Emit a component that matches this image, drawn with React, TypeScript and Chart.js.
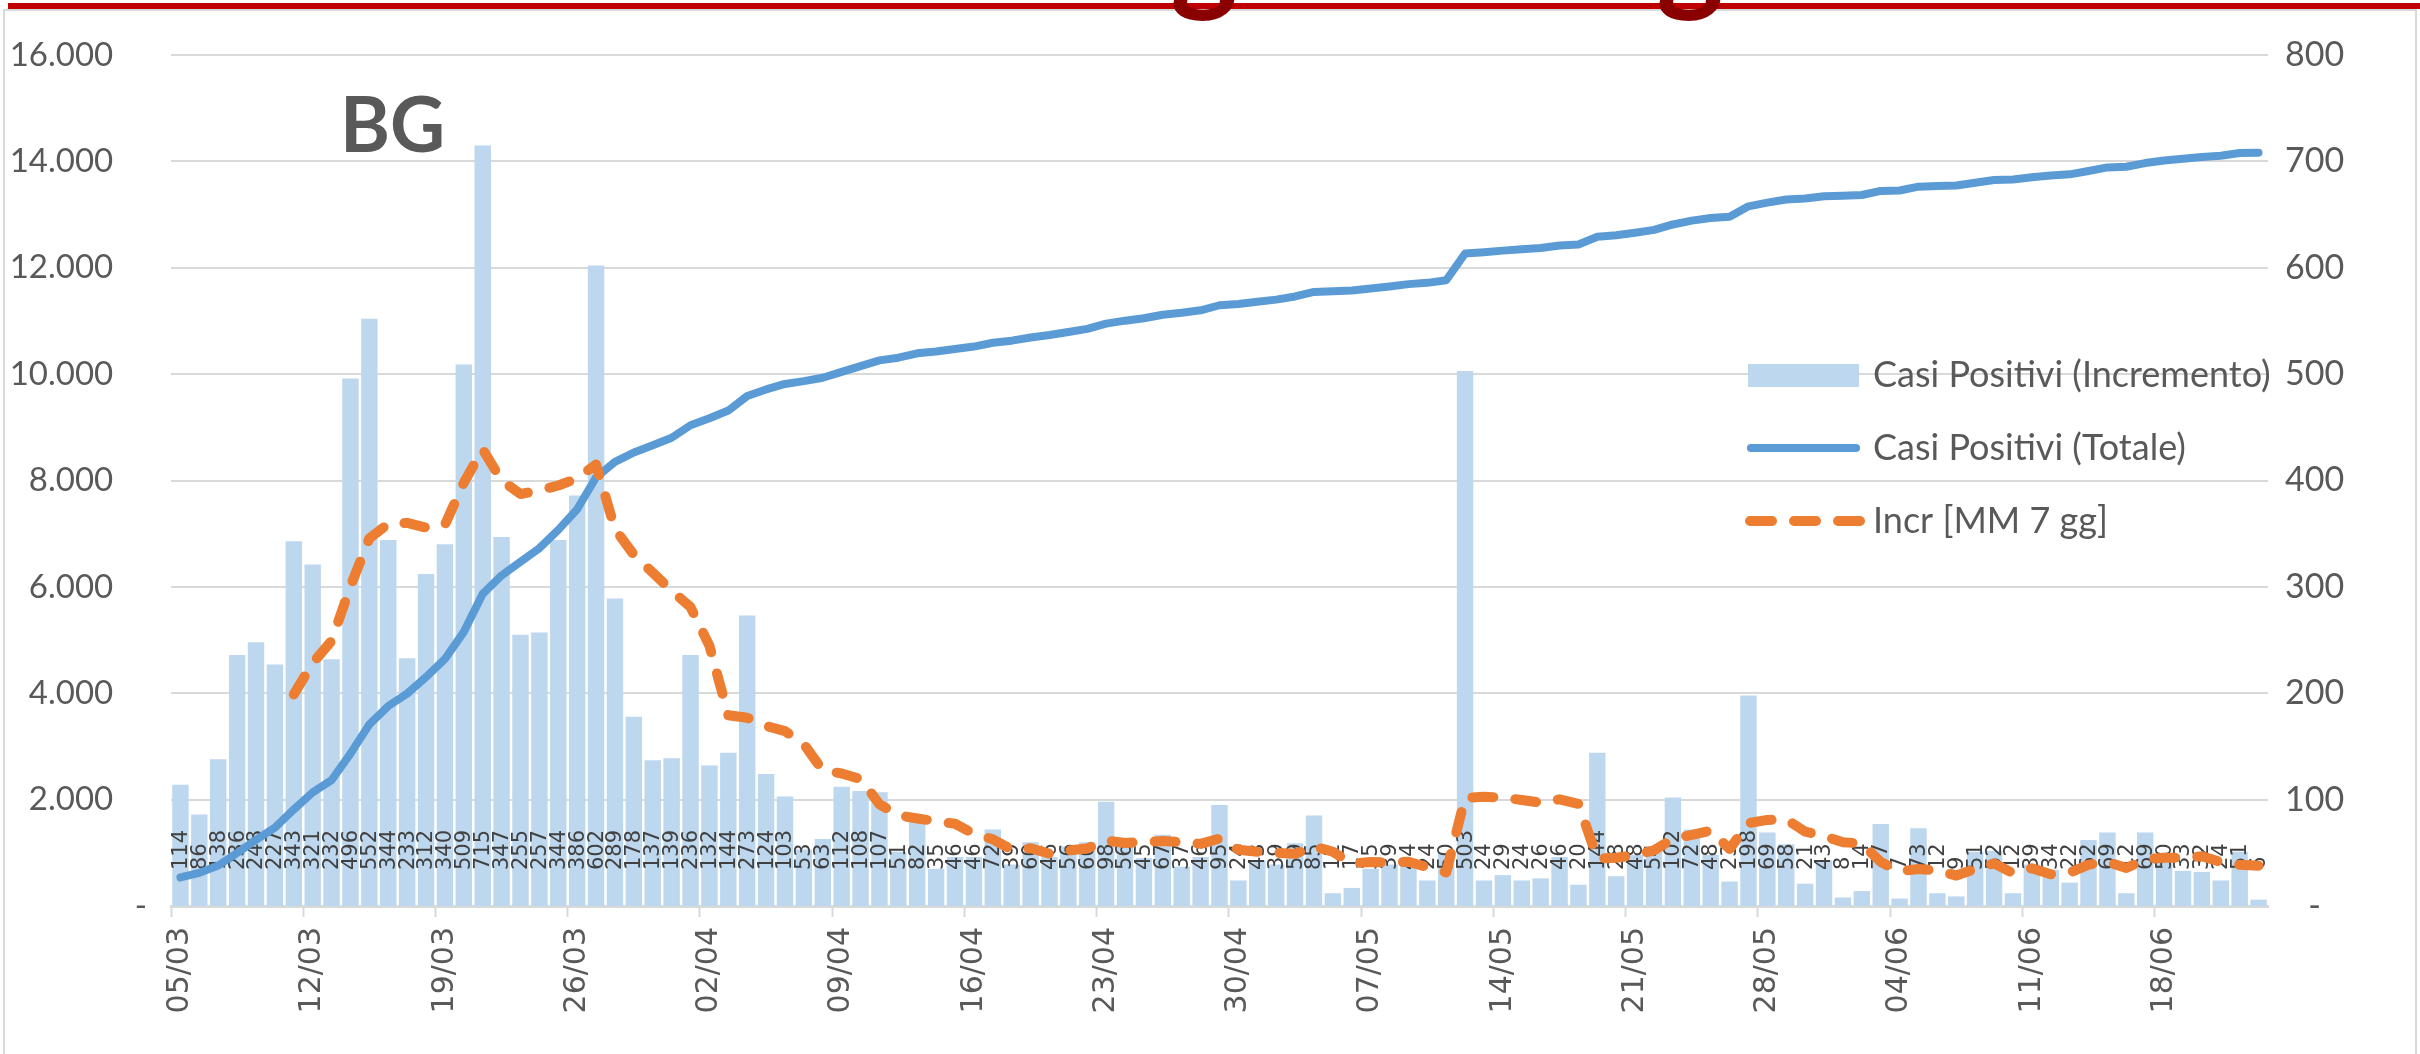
import React, { useEffect, useRef } from 'react';
import { Chart, registerables } from 'chart.js';

Chart.register(...registerables);

// ---------------- DATA ----------------
const categories = [
  '05/03','06/03','07/03','08/03','09/03','10/03','11/03','12/03','13/03','14/03',
  '15/03','16/03','17/03','18/03','19/03','20/03','21/03','22/03','23/03','24/03',
  '25/03','26/03','27/03','28/03','29/03','30/03','31/03','01/04','02/04','03/04',
  '04/04','05/04','06/04','07/04','08/04','09/04','10/04','11/04','12/04','13/04',
  '14/04','15/04','16/04','17/04','18/04','19/04','20/04','21/04','22/04','23/04',
  '24/04','25/04','26/04','27/04','28/04','29/04','30/04','01/05','02/05','03/05',
  '04/05','05/05','06/05','07/05','08/05','09/05','10/05','11/05','12/05','13/05',
  '14/05','15/05','16/05','17/05','18/05','19/05','20/05','21/05','22/05','23/05',
  '24/05','25/05','26/05','27/05','28/05','29/05','30/05','31/05','01/06','02/06',
  '03/06','04/06','05/06','06/06','07/06','08/06','09/06','10/06','11/06','12/06',
  '13/06','14/06','15/06','16/06','17/06','18/06','19/06','20/06','21/06','22/06',
  '23/06',
];

const incrementi = [
  114, 86, 138, 236, 248, 227, 343, 321, 232, 496,
  552, 344, 233, 312, 340, 509, 715, 347, 255, 257,
  344, 386, 602, 289, 178, 137, 139, 236, 132, 144,
  273, 124, 103, 53, 63, 112, 108, 107, 51, 82,
  35, 46, 46, 72, 39, 60, 46, 56, 60, 98,
  56, 45, 67, 37, 46, 95, 24, 43, 39, 59,
  85, 12, 17, 35, 39, 44, 24, 50, 503, 24,
  29, 24, 26, 46, 20, 144, 28, 48, 54, 102,
  72, 48, 23, 198, 69, 58, 21, 43, 8, 14,
  77, 7, 73, 12, 9, 51, 52, 12, 39, 34,
  22, 62, 69, 12, 69, 50, 33, 32, 24, 51,
  6,
];

const totale = [
  537, 623, 761, 997, 1245, 1472, 1815, 2136, 2368, 2864,
  3416, 3760, 3993, 4305, 4645, 5154, 5869, 6216, 6471, 6728,
  7072, 7458, 8060, 8349, 8527, 8664, 8803, 9039, 9171, 9315,
  9588, 9712, 9815, 9868, 9931, 10043, 10151, 10258, 10309, 10391,
  10426, 10472, 10518, 10590, 10629, 10689, 10735, 10791, 10851, 10949,
  11005, 11050, 11117, 11154, 11200, 11295, 11319, 11362, 11401, 11460,
  11545, 11557, 11574, 11609, 11648, 11692, 11716, 11766, 12269, 12293,
  12322, 12346, 12372, 12418, 12438, 12582, 12610, 12658, 12712, 12814,
  12886, 12934, 12957, 13155, 13224, 13282, 13303, 13346, 13354, 13368,
  13445, 13452, 13525, 13537, 13546, 13597, 13649, 13661, 13700, 13734,
  13756, 13818, 13887, 13899, 13968, 14018, 14051, 14083, 14107, 14158,
  14164,
];

const media7 = [
  null, null, null, null, null, null, 198.9, 228.4, 249.3, 300.4,
  345.6, 359.3, 360.1, 355.7, 358.4, 398.0, 429.3, 400.0, 387.3, 390.7,
  395.3, 401.9, 415.1, 354.3, 330.1, 313.3, 296.4, 281.0, 244.7, 179.3,
  177.0, 169.3, 164.4, 152.1, 127.4, 124.6, 119.4, 95.7, 85.3, 82.3,
  79.7, 77.3, 67.9, 62.7, 53.0, 54.3, 49.1, 52.1, 54.1, 61.6,
  59.3, 60.1, 61.1, 59.9, 58.4, 63.4, 52.9, 51.0, 50.1, 49.0,
  55.9, 51.0, 39.9, 41.4, 40.9, 41.6, 36.6, 31.6, 101.7, 102.7,
  101.9, 99.7, 97.1, 100.3, 96.0, 44.7, 45.3, 48.0, 52.3, 63.1,
  66.9, 70.9, 53.6, 77.9, 80.9, 81.4, 69.9, 65.7, 60.0, 58.7,
  41.4, 32.6, 34.7, 33.4, 28.6, 34.7, 40.1, 30.9, 35.4, 29.9,
  31.3, 38.9, 41.4, 35.7, 43.9, 45.4, 45.3, 46.7, 41.3, 38.7,
  37.9,
];

const seriesLabels = ['Casi Positivi (Incremento)', 'Casi Positivi (Totale)', 'Incr [MM 7 gg]'];
const leftTickLabels = ['-', '2.000', '4.000', '6.000', '8.000', '10.000', '12.000', '14.000', '16.000'];
const rightTickLabels = ['-', '100', '200', '300', '400', '500', '600', '700', '800'];
const chartTag = 'BG';
// cut-off title glyphs visible at the very top of the picture
const titleFragments = ['g', 'g'];

// ---------------- STYLE ----------------
const BAR_COLOR = '#bdd7ee';
const LINE_COLOR = '#5b9bd5';
const MA_COLOR = '#ed7d31';
const GRID_COLOR = '#d9d9d9';
const TEXT_COLOR = '#595959';

const framePlugin = {
  id: 'frame',
  beforeDraw(chart: any) {
    const ctx = chart.ctx;
    ctx.save();
    ctx.fillStyle = '#ffffff';
    ctx.fillRect(0, 0, chart.width, chart.height);
    ctx.strokeStyle = GRID_COLOR;
    ctx.lineWidth = 2;
    ctx.strokeRect(4, 10, chart.width - 8, chart.height + 20);
    ctx.fillStyle = '#c00000';
    ctx.fillRect(8, 3, chart.width - 8, 6);
    // fragments of a cut-off title
    ctx.fillStyle = '#8a0000';
    ctx.font = 'bold 128px Lato';
    ctx.textAlign = 'center';
    ctx.textBaseline = 'alphabetic';
    const xs = [1204, 1690];
    titleFragments.forEach((t, i) => ctx.fillText(t, xs[i], -2));
    ctx.restore();
  },
};

const barLabelPlugin = {
  id: 'barLabels',
  afterDatasetDraw(chart: any, args: any) {
    if (args.index !== 0) return;
    const ctx = chart.ctx;
    const base = chart.scales.yR.getPixelForValue(0);
    ctx.save();
    ctx.font = '21px "DejaVu Sans"';
    ctx.fillStyle = '#404040';
    ctx.textAlign = 'left';
    ctx.textBaseline = 'middle';
    args.meta.data.forEach((el: any, i: number) => {
      ctx.save();
      ctx.translate(el.x, base - 36);
      ctx.rotate(-Math.PI / 2);
      ctx.fillText(String(incrementi[i]), 0, 1);
      ctx.restore();
    });
    ctx.restore();
  },
};

const legendPlugin = {
  id: 'customLegend',
  afterDraw(chart: any) {
    const ctx = chart.ctx;
    ctx.save();
    ctx.fillStyle = BAR_COLOR;
    ctx.fillRect(1748, 364, 111, 23);
    ctx.strokeStyle = LINE_COLOR;
    ctx.lineWidth = 8;
    ctx.lineCap = 'round';
    ctx.beginPath();
    ctx.moveTo(1751, 448);
    ctx.lineTo(1856, 448);
    ctx.stroke();
    ctx.strokeStyle = MA_COLOR;
    ctx.lineWidth = 10;
    ctx.setLineDash([22, 22]);
    ctx.beginPath();
    ctx.moveTo(1750, 521);
    ctx.lineTo(1860, 521);
    ctx.stroke();
    ctx.setLineDash([]);
    ctx.fillStyle = TEXT_COLOR;
    ctx.font = '36px Lato';
    ctx.textAlign = 'left';
    ctx.textBaseline = 'middle';
    const ys = [375, 448, 521];
    chart.data.datasets.forEach((ds: any, i: number) => {
      ctx.fillText(ds.label, 1873, ys[i]);
    });
    ctx.font = 'bold 76px Lato';
    ctx.textBaseline = 'alphabetic';
    ctx.fillText(chartTag, 340, 152);
    ctx.restore();
  },
};

export default function App() {
  const ref = useRef<HTMLCanvasElement | null>(null);

  useEffect(() => {
    document.body.style.margin = '0';
    const canvas = ref.current;
    if (!canvas) return;
    const chart = new Chart(canvas, {
      type: 'bar',
      data: {
        labels: categories,
        datasets: [
          {
            type: 'bar',
            label: seriesLabels[0],
            data: incrementi,
            backgroundColor: BAR_COLOR,
            yAxisID: 'yR',
            categoryPercentage: 1,
            barPercentage: 0.87,
            order: 3,
          },
          {
            type: 'line',
            label: seriesLabels[1],
            data: totale,
            borderColor: LINE_COLOR,
            borderWidth: 8,
            pointRadius: 0,
            borderCapStyle: 'round',
            borderJoinStyle: 'round',
            tension: 0,
            yAxisID: 'yL',
            order: 2,
          },
          {
            type: 'line',
            label: seriesLabels[2],
            data: media7,
            borderColor: MA_COLOR,
            borderWidth: 10,
            borderDash: [21, 22],
            borderCapStyle: 'round',
            borderJoinStyle: 'round',
            pointRadius: 0,
            tension: 0,
            spanGaps: false,
            yAxisID: 'yR',
            order: 1,
          },
        ] as any,
      },
      options: {
        responsive: false,
        animation: false,
        devicePixelRatio: 1,
        layout: { padding: { top: 55, left: 0, right: 0, bottom: 0 } },
        plugins: {
          legend: { display: false },
          tooltip: { enabled: false },
          title: { display: false },
        },
        scales: {
          x: {
            type: 'category',
            offset: true,
            afterFit: (s: any) => { s.height = 148; },
            grid: {
              display: true,
              offset: true,
              drawOnChartArea: false,
              drawTicks: true,
              tickLength: 11,
              tickWidth: 2,
              tickColor: (c: any) => (typeof c.index === 'number' && c.index % 7 === 0 ? GRID_COLOR : 'rgba(0,0,0,0)'),
            },
            border: { display: true, color: GRID_COLOR, width: 3 },
            ticks: {
              autoSkip: false,
              minRotation: 90,
              maxRotation: 90,
              padding: 10,
              color: TEXT_COLOR,
              font: { family: '"DejaVu Sans"', size: 30 },
              callback: (_v: any, i: number) => (i % 7 === 0 ? categories[i] : ''),
            },
          },
          yL: {
            type: 'linear',
            position: 'left',
            min: 0,
            max: 16000,
            afterFit: (s: any) => { s.width = 171; },
            grid: { color: GRID_COLOR, lineWidth: 2, drawTicks: false },
            border: { display: false },
            ticks: {
              stepSize: 2000,
              padding: 24,
              color: TEXT_COLOR,
              font: { family: 'Lato', size: 33 },
              callback: (_v: any, i: number) => (i === 0 ? leftTickLabels[0] : leftTickLabels[i] + '    '),
            },
          },
          yR: {
            type: 'linear',
            position: 'right',
            min: 0,
            max: 800,
            afterFit: (s: any) => { s.width = 152; },
            grid: { display: false, drawTicks: false },
            border: { display: false },
            ticks: {
              stepSize: 100,
              padding: 17,
              crossAlign: 'center',
              color: TEXT_COLOR,
              font: { family: 'Lato', size: 34 },
              callback: (_v: any, i: number) => rightTickLabels[i],
            },
          },
        },
      } as any,
      plugins: [framePlugin, barLabelPlugin, legendPlugin],
    });
    return () => chart.destroy();
  }, []);

  return (
    <div style={{ position: 'absolute', left: 0, top: 0, width: 2420, height: 1054 }}>
      <canvas ref={ref} width={2420} height={1054} style={{ display: 'block' }} />
    </div>
  );
}
